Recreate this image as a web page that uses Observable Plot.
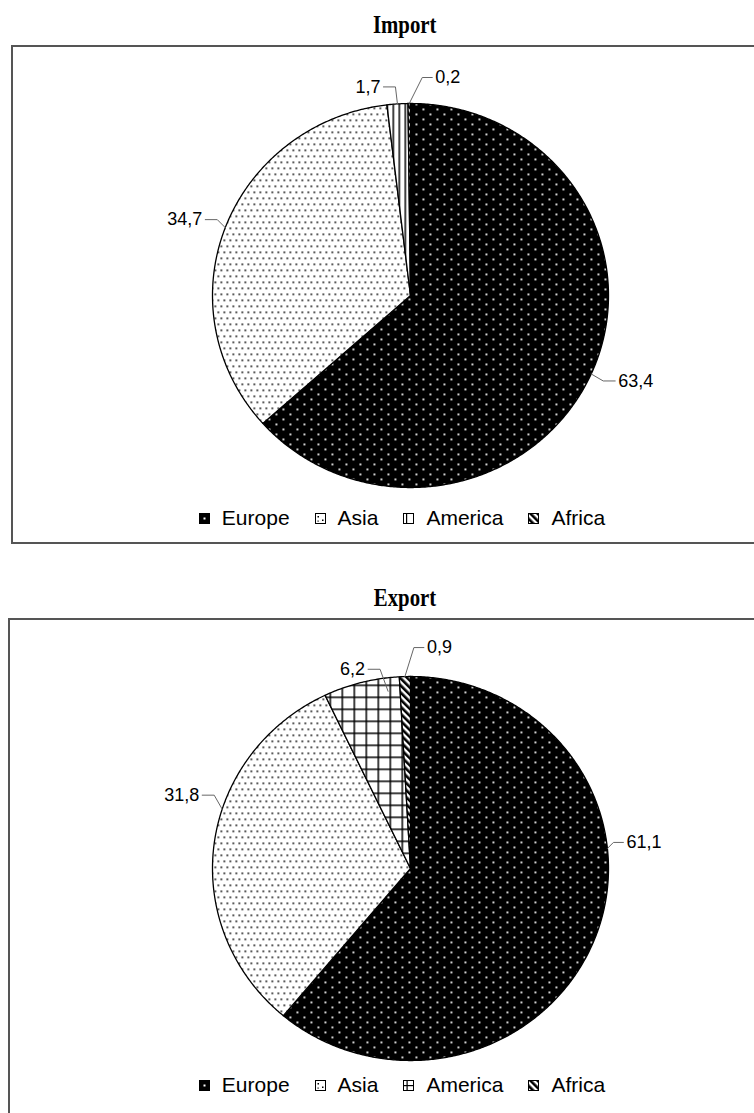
<!DOCTYPE html>
<html>
<head>
<meta charset="utf-8">
<script src="https://cdn.jsdelivr.net/npm/d3@7"></script>
<script src="https://cdn.jsdelivr.net/npm/@observablehq/plot@0.6"></script>
<style>
  html, body { margin: 0; padding: 0; background: #fff; overflow: hidden; }
  body { position: relative; width: 754px; height: 1113px; font-family: "Liberation Sans", Arial, sans-serif; }
  .title { position: absolute; left: 0; width: 810px; text-align: center; }
  .title span { display: inline-block; transform: scaleX(0.8);
           font-family: "Liberation Serif", "Times New Roman", serif; font-weight: bold; font-size: 26px; color: #000; }
  .frame { position: absolute; border: 2px solid #555; box-sizing: border-box; }
  .plot { position: absolute; left: 0; }
  .legend { position: absolute; left: 0; width: 804px; display: flex; justify-content: center; gap: 25px;
            font-size: 21px; line-height: 24px; color: #000; }
  .legend .item { display: flex; align-items: center; gap: 12px; }
  .legend svg { display: block; }
</style>
</head>
<body>
<script>
// Regions shared by both charts
const regions = ["Europe", "Asia", "America", "Africa"];

// Shares of trade by region, percent
const importShares = [63.4, 34.7, 1.7, 0.2];
const exportShares = [61.1, 31.8, 6.2, 0.9];

const chartTitles = ["Import", "Export"];

// Fill pattern per region (America is striped in the import chart, gridded in the export chart)
const importPatterns = ["dotsWhite", "dotsBlack", "vstripes", "diag"];
const exportPatterns = ["dotsWhite", "dotsBlack", "grid", "diag"];

// Leader-line layout of each value label: anchor angle on the rim (deg, null = slice middle),
// elbow offset from the anchor and run of the horizontal tail, in pixels
const importLabelLayout = [
  {angle: null, ex: 12, ey: 7, run: 12},
  {angle: null, ex: -8, ey: -8, run: -12},
  {angle: null, ex: -2, ey: -17, run: -12},
  {angle: null, ex: 13, ey: -26, run: 10}
];
const exportLabelLayout = [
  {angle: 84, ex: 6, ey: -6, run: 10},
  {angle: 288, ex: -8, ey: -14, run: -12},
  {angle: 353, ex: -8, ey: -22, run: -12, r: 0.93},
  {angle: null, ex: 9, ey: -29, run: 10}
];

const fmt = v => v.toFixed(1).replace(".", ",");

function patternDefs(prefix) {
  return `
  <pattern id="${prefix}-dotsWhite" width="14" height="10" patternUnits="userSpaceOnUse">
    <rect width="14" height="10" fill="#000"/>
    <rect x="2" y="2" width="1.8" height="1.8" fill="#fff"/>
    <rect x="9" y="7" width="1.8" height="1.8" fill="#fff"/>
  </pattern>
  <pattern id="${prefix}-dotsBlack" width="12" height="12" patternUnits="userSpaceOnUse">
    <rect width="12" height="12" fill="#fff"/>
    <rect x="1" y="1" width="1.6" height="1.6" fill="#000"/>
    <rect x="7" y="1" width="1.6" height="1.6" fill="#000"/>
    <rect x="4" y="7" width="1.6" height="1.6" fill="#000"/>
    <rect x="10" y="7" width="1.6" height="1.6" fill="#000"/>
  </pattern>
  <pattern id="${prefix}-vstripes" width="6" height="6" patternUnits="userSpaceOnUse">
    <rect width="6" height="6" fill="#fff"/>
    <rect x="2" y="0" width="1.5" height="6" fill="#000"/>
  </pattern>
  <pattern id="${prefix}-grid" width="12" height="12" patternUnits="userSpaceOnUse">
    <rect width="12" height="12" fill="#fff"/>
    <rect x="5" y="0" width="1.5" height="12" fill="#000"/>
    <rect x="0" y="5" width="12" height="1.5" fill="#000"/>
  </pattern>
  <pattern id="${prefix}-diag" width="5" height="5" patternUnits="userSpaceOnUse" patternTransform="rotate(-45)">
    <rect width="5" height="5" fill="#fff"/>
    <rect x="0" y="0" width="2.6" height="5" fill="#000"/>
  </pattern>`;
}

function legendSwatch(kind) {
  const s = 11;
  let inner = "";
  if (kind === "dotsWhite") inner = `<rect width="${s}" height="${s}" fill="#000"/><rect x="4.5" y="4.5" width="2" height="2" fill="#fff"/>`;
  else if (kind === "dotsBlack") inner = `<rect x="0.5" y="0.5" width="${s - 1}" height="${s - 1}" fill="#fff" stroke="#000"/><rect x="2.5" y="3" width="1.5" height="1.5"/><rect x="7" y="6.5" width="1.5" height="1.5"/><rect x="2.5" y="7.5" width="1.2" height="1.2"/>`;
  else if (kind === "vstripes") inner = `<rect x="0.5" y="0.5" width="${s - 1}" height="${s - 1}" fill="#fff" stroke="#000"/><rect x="3" y="0.5" width="1.2" height="${s - 1}"/>`;
  else if (kind === "grid") inner = `<rect x="0.5" y="0.5" width="${s - 1}" height="${s - 1}" fill="#fff" stroke="#000"/><rect x="3.5" y="0.5" width="1.2" height="${s - 1}"/><rect x="0.5" y="5" width="${s - 1}" height="1.2"/>`;
  else inner = `<defs>${patternDefs("lg")}</defs><rect x="0.5" y="0.5" width="${s - 1}" height="${s - 1}" fill="url(#lg-diag)" stroke="#000"/>`;
  return `<svg width="${s}" height="${s}" viewBox="0 0 ${s} ${s}">${inner}</svg>`;
}

function drawPie({prefix, title, shares, patterns, layout, titleTop, frame, plotTop, legendTop}) {
  const W = 754, H = 440;
  const cx = 410, cy = 249;     // pie centre inside the plot, px
  const rx = 198, ry = 192;     // pie radii, px

  const data = regions.map((region, i) => ({region, value: shares[i], pattern: patterns[i]}));
  const arcs = d3.pie().sort(null).value(d => d.value)(data);

  // polar point on the unit pie: angle in radians, clockwise from 12 o'clock
  const polar = (a, r = 1) => ({x: r * Math.sin(a), y: r * Math.cos(a)});

  const slices = arcs.map(a => {
    const n = Math.max(2, Math.ceil((a.endAngle - a.startAngle) / (Math.PI / 360)));
    const pts = [{x: 0, y: 0}];
    for (let k = 0; k <= n; ++k) pts.push(polar(a.startAngle + (a.endAngle - a.startAngle) * k / n));
    pts.push({x: 0, y: 0});
    return {arc: a, pts};
  });

  // leader lines and label anchors, in pie units
  const leaders = arcs.map((a, i) => {
    const L = layout[i];
    const ang = L.angle == null ? (a.startAngle + a.endAngle) / 2 : L.angle * Math.PI / 180;
    const p = polar(ang, L.r ?? 1);
    const e = {x: p.x + L.ex / rx, y: p.y - L.ey / ry};
    const t = {x: e.x + L.run / rx, y: e.y};
    return {region: a.data.region, label: fmt(a.data.value), side: L.run >= 0 ? "start" : "end", pts: [p, e, t], t};
  });

  const marks = [
    ...slices.map(s => Plot.line(s.pts, {
      x: "x", y: "y", fill: `url(#${prefix}-${s.arc.data.pattern})`,
      stroke: "#000", strokeWidth: 1.3, curve: "linear"
    })),
    ...leaders.map(l => Plot.line(l.pts, {x: "x", y: "y", stroke: "#666", strokeWidth: 1})),
    Plot.text(leaders.filter(l => l.side === "start"), {
      x: d => d.t.x, y: d => d.t.y, text: "label", textAnchor: "start", dx: 3,
      fontSize: 18, fill: "#000"
    }),
    Plot.text(leaders.filter(l => l.side === "end"), {
      x: d => d.t.x, y: d => d.t.y, text: "label", textAnchor: "end", dx: -3,
      fontSize: 18, fill: "#000"
    })
  ];

  const svg = Plot.plot({
    width: W, height: H,
    margin: 0,
    x: {domain: [-cx / rx, (W - cx) / rx], axis: null},
    y: {domain: [-(H - cy) / ry, cy / ry], axis: null},
    style: {fontFamily: "'Liberation Sans', Arial, sans-serif", background: "transparent", overflow: "visible"},
    marks
  });
  const defs = document.createElementNS("http://www.w3.org/2000/svg", "defs");
  defs.innerHTML = patternDefs(prefix);
  svg.insertBefore(defs, svg.firstChild);

  const t = document.createElement("div");
  t.className = "title";
  t.style.top = titleTop + "px";
  const ts = document.createElement("span");
  ts.textContent = title;
  t.appendChild(ts);
  document.body.appendChild(t);

  const f = document.createElement("div");
  f.className = "frame";
  Object.assign(f.style, {left: frame.left + "px", top: frame.top + "px", width: frame.width + "px", height: frame.height + "px"});
  document.body.appendChild(f);

  const holder = document.createElement("div");
  holder.className = "plot";
  holder.style.top = plotTop + "px";
  holder.appendChild(svg);
  document.body.appendChild(holder);

  const lg = document.createElement("div");
  lg.className = "legend";
  lg.style.top = legendTop + "px";
  lg.innerHTML = regions.map((r, i) =>
    `<div class="item">${legendSwatch(patterns[i])}<span>${r}</span></div>`).join("");
  document.body.appendChild(lg);
}

drawPie({
  prefix: "imp", title: chartTitles[0], shares: importShares, patterns: importPatterns,
  layout: importLabelLayout, titleTop: 10,
  frame: {left: 11, top: 45, width: 760, height: 499},
  plotTop: 46, legendTop: 506
});
drawPie({
  prefix: "exp", title: chartTitles[1], shares: exportShares, patterns: exportPatterns,
  layout: exportLabelLayout, titleTop: 583,
  frame: {left: 8, top: 618, width: 760, height: 520},
  plotTop: 619, legendTop: 1073
});
</script>
</body>
</html>
